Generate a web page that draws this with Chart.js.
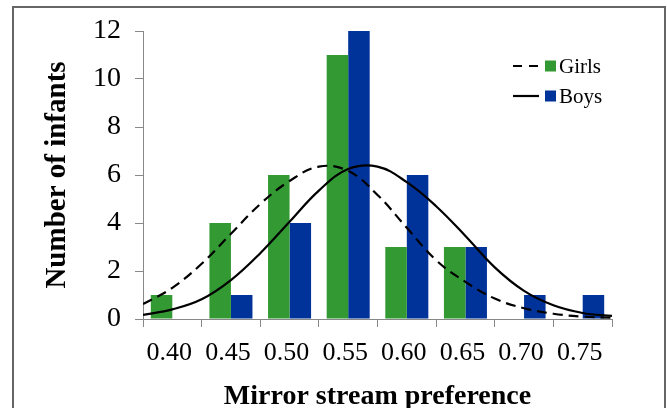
<!DOCTYPE html>
<html>
<head>
<meta charset="utf-8">
<script src="https://cdn.jsdelivr.net/npm/chart.js@4.4.1/dist/chart.umd.min.js"></script>
<style>
body{margin:0;background:#fff;}
#wrap{position:relative;width:667px;height:408px;overflow:hidden;}
#frame{position:absolute;left:12px;top:6px;width:654px;height:430px;border:2px solid #666;box-sizing:border-box;}
canvas{position:absolute;left:0;top:0;}
</style>
</head>
<body>
<div id="wrap">
<div id="frame"></div>
<canvas id="histChart" width="667" height="408"></canvas>
<canvas id="curveChart" width="667" height="408"></canvas>
</div>
<script>
// bins (bar categories)
const categories = ["0.40","0.45","0.50","0.55","0.60","0.65","0.70","0.75"];
const girls = [1,4,6,11,3,3,0,0];
const boys = [0,1,4,12,6,3,1,1];

// fitted curves
const curveX = [0.375,0.40,0.425,0.45,0.475,0.50,0.525,0.55,0.575,0.60,0.625,0.65,0.675,0.70,0.725,0.75,0.775];
const girlsCurve = [0.62,1.3,2.3,3.55,4.79,5.75,6.35,6.17,5.17,3.8,2.45,1.55,0.85,0.45,0.22,0.1,0.05];
const boysCurve = [0.17,0.40,0.82,1.62,2.74,4.05,5.35,6.25,6.35,5.7,4.7,3.46,2.15,1.17,0.57,0.25,0.13];

const GREEN = "#339933";
const BLUE = "#003399";

Chart.defaults.font.family = "'Liberation Serif', serif";
Chart.defaults.color = "#000";

const legendPlugin = {
  id: "sideLegend",
  afterDraw(chart){
    const ctx = chart.ctx;
    const rows = [
      {text:"Girls", color:GREEN, dash:[9,7], y:66},
      {text:"Boys", color:BLUE, dash:[], y:96}
    ];
    ctx.save();
    rows.forEach(r => {
      ctx.strokeStyle = "#000";
      ctx.lineWidth = 2.2;
      ctx.setLineDash(r.dash);
      ctx.beginPath();
      ctx.moveTo(513, r.y);
      ctx.lineTo(539, r.y);
      ctx.stroke();
      ctx.setLineDash([]);
      ctx.fillStyle = r.color;
      ctx.fillRect(545, r.y - 5.5, 11, 11);
      ctx.fillStyle = "#000";
      ctx.font = "21px 'Liberation Serif'";
      ctx.textBaseline = "middle";
      ctx.fillText(r.text, 559, r.y + 1);
    });
    ctx.restore();
  }
};

// bars + visible axes
new Chart(document.getElementById("histChart"), {
  type: "bar",
  data: {
    labels: categories,
    datasets: [
      { label: "Girls", data: girls, backgroundColor: GREEN },
      { label: "Boys", data: boys, backgroundColor: BLUE }
    ]
  },
  options: {
    responsive: false,
    animation: false,
    categoryPercentage: 0.734,
    barPercentage: 1,
    layout: { padding: { top: 31, right: 55, left: 0, bottom: 0 } },
    plugins: { legend: { display: false }, tooltip: { enabled: false } },
    scales: {
      x: {
        offset: true,
        grid: { offset: true, drawOnChartArea: false, drawTicks: true, tickLength: 8, color: "#888" },
        border: { color: "#888", width: 1 },
        ticks: { font: { size: 26 }, padding: 11, labelOffset: -3 },
        title: { display: true, text: "Mirror stream preference", font: { size: 28, weight: "bold", lineHeight: 1 }, padding: { top: 0, bottom: -3 } },
        afterFit(scale){ scale.height = 89; }
      },
      y: {
        min: 0,
        max: 12,
        ticks: { stepSize: 2, font: { size: 28 }, padding: 14 },
        grid: { drawOnChartArea: false, drawTicks: true, tickLength: 8, color: "#888" },
        border: { color: "#888", width: 1 },
        title: { display: true, text: "Number of infants", font: { size: 29, weight: "bold" }, padding: { top: 40, bottom: 0 } },
        afterFit(scale){ scale.width = 143; }
      }
    }
  },
  plugins: [legendPlugin]
});

// fitted normal curves on a linear axis spanning the same plot area
new Chart(document.getElementById("curveChart"), {
  type: "line",
  data: {
    datasets: [
      {
        label: "Girls",
        data: curveX.map((x,i) => ({x:x, y:girlsCurve[i]})),
        borderColor: "#000",
        borderWidth: 2.2,
        borderDash: [10,6],
        pointRadius: 0,
        tension: 0.4,
        fill: false
      },
      {
        label: "Boys",
        data: curveX.map((x,i) => ({x:x, y:boysCurve[i]})),
        borderColor: "#000",
        borderWidth: 2.2,
        pointRadius: 0,
        tension: 0.4,
        fill: false
      }
    ]
  },
  options: {
    responsive: false,
    animation: false,
    layout: { padding: { top: 31, right: 55, left: 143, bottom: 89 } },
    plugins: { legend: { display: false }, tooltip: { enabled: false } },
    scales: {
      x: { type: "linear", display: false, min: 0.375, max: 0.775 },
      y: { display: false, min: 0, max: 12 }
    }
  }
});
</script>
</body>
</html>
